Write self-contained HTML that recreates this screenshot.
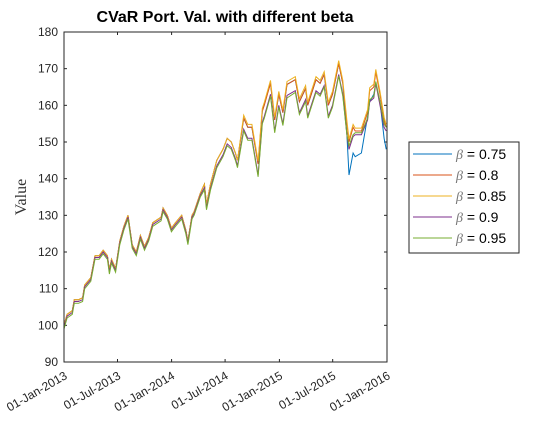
<!DOCTYPE html>
<html><head><meta charset="utf-8"><style>
body{margin:0;background:#fff;width:560px;height:420px;overflow:hidden}
svg text{font-family:"Liberation Sans",sans-serif}
</style></head><body>
<svg width="560" height="420">
<rect width="560" height="420" fill="#fff"/>
<text x="225" y="22" text-anchor="middle" font-size="16" font-weight="bold" fill="#000">CVaR Port. Val. with different beta</text>
<text transform="translate(26,197) rotate(-90)" text-anchor="middle" font-size="16" style="font-family:'Liberation Serif',serif" fill="#333">Value</text>
<g id="axes"></g>
<g id="series"></g>
<rect x="64" y="32" width="323" height="330" fill="none" stroke="#262626" stroke-width="1"/>
<g id="legend"></g>
</svg>
<script>
const weeks=[0,1.5,4,5,7,9,10,13,15,17,19,21,22,23,25,27,29,31,33,35,37,39,41,43,47,48,50,52,54,57,59,60,62,63,66,68,69,71,74,77,79,81,83,84,87,89,91,94,96,97,100,102,104,106,108,112,114,117,118,122,124,126,128,130,133,135,137,138,140,141,144,147,148,150,151,153,155,156];
const s075=[100,103,104,107,107,107.5,111,113,119,119,120.5,119,115,118,115.5,123,127,130,122,120,124.5,121.5,124,128,129.5,132,130,126.5,128,130,126,123,130,131,136,138.5,133,138.6,145,148,151,150,147,145,156.5,154,154,144,158.4,160.5,166,156,163,158,165.7,167,161,164.6,160,167,166,168.4,160,163,171.4,166,152,141,147,146,147,157,161,163,166,161,151,148];
const s080=[100,103,104,107,107,107.5,111,113,119,119,120.5,119,115,118,115.5,123,127,130,122,120,124.5,121.5,124,128,129.5,132,130,126.5,128,130,126,123,130,131,136,138.5,133,138.6,145,148,151,150,147,145,156.5,154,154,144,158.4,160,166,156,163,158,165.7,167,161,164.6,160,167,166,168.4,160,163,171.4,166,155,150,154,153,153,158,164,165,169,163,156,154];
const s085=[100,103,104,107,107,107.5,111,113,119,119,120.5,119,115,118,115.5,123,127,130,122,120,124.5,121.5,124,128,129.5,132,130,126.5,128,130,126,123,130,131,136,138.5,133,138.6,145,148,151,150,147,145,157.3,154.8,154.8,144.8,159.2,160.8,166.8,156.8,163.8,158.8,166.5,167.8,161.8,165.4,160.8,167.8,166.8,169.2,160.8,163.8,172.2,166.8,155.8,150.8,154.8,153.8,153.8,158.8,164.8,165.8,169.8,163.8,156.8,154.8];
const s090=[99.5,102.5,103.5,106.5,106.5,107,110.5,112.5,118.5,118.5,120,118.5,114.5,117.5,115,122.5,126.5,129.5,121.5,119.5,124,121,123.5,127.5,129,131.5,129.5,126,127.5,129.5,125.5,122.5,129.5,130.5,135.5,137.5,132,137.5,143.5,146.5,149.5,148.5,145.5,143.5,153.5,151,151,141,155.4,157,163,153,160,155,162.7,164,158,161.6,157,164,163,165.4,157,160,168.4,163,152,148,151.5,152,152,156,161,162,166,160,154,153];
const s095=[99,102,103,106,106,106.5,110,112,118,118,119.5,118,114,117,114.5,122,126,129,121,119,123.5,120.5,123,127,128.5,131,129,125.5,127,129,125,122,129,130,135,137,131.5,137,143,146,149,148,145,143,153,150.5,150.5,140.5,155,156.5,162.5,152.5,159.5,154.5,162,163.5,157.5,161,156.5,163.5,162.5,165,156.5,159.5,168,162.5,152,149,152,152.5,152.5,156.5,161.5,162.5,166.5,161,155,154];
const yTicks=[90,100,110,120,130,140,150,160,170,180];
const xTickWeeks=[0,25.9,52.1,78,104.3,130.1,156.4];
const xTickLabels=["01-Jan-2013","01-Jul-2013","01-Jan-2014","01-Jul-2014","01-Jan-2015","01-Jul-2015","01-Jan-2016"];
const seriesNames=["0.75","0.8","0.85","0.9","0.95"];
const colors=["#0072BD","#D95319","#EDB120","#7E2F8E","#77AC30"];
const NS="http://www.w3.org/2000/svg";
const X=w=>64+w*323/156.4;
const Y=v=>362-(v-90)*330/90;
const ax=document.getElementById('axes');
function mk(t,a,p){const e=document.createElementNS(NS,t);for(const k in a)e.setAttribute(k,a[k]);p.appendChild(e);return e;}
yTicks.forEach(v=>{
  const y=Y(v);
  const l=mk('line',{x1:64,x2:67,y1:y,y2:y,stroke:'#262626'},ax);
  
  
  const l2=mk('line',{x1:384,x2:387,y1:y,y2:y,stroke:'#262626'},ax);
  
  
  const t=mk('text',{x:58,y:y+4,'text-anchor':'end','font-size':12,fill:'#262626'},ax);
  t.textContent=v;
  
  
});
xTickWeeks.forEach((w,i)=>{
  const x=X(w);
  const l=mk('line',{x1:x,x2:x,y1:362,y2:359,stroke:'#262626'},ax);
  
  
  const l2=mk('line',{x1:x,x2:x,y1:32,y2:35,stroke:'#262626'},ax);
  
  
  const t=mk('text',{transform:`translate(${x+4},${378}) rotate(-30)`,'text-anchor':'end','font-size':12,fill:'#262626'},ax);
  t.textContent=xTickLabels[i];
  
  
});
const sg=document.getElementById('series');
[s075,s080,s085,s090,s095].forEach((s,i)=>{
  const d=s.map((v,j)=>(j?'L':'M')+X(weeks[j]).toFixed(1)+' '+Y(v).toFixed(1)).join(' ');
  const p=mk('path',{d:d,fill:'none',stroke:colors[i],'stroke-width':1},sg);
  
  
});
const lg=document.getElementById('legend');
const box=mk('rect',{x:409,y:142,width:110,height:111,fill:'#fff',stroke:'#262626'},lg);


seriesNames.forEach((n,i)=>{
  const y=154+i*21;
  const l=mk('line',{x1:413,x2:452,y1:y,y2:y,stroke:colors[i]},lg);
  
  
  const t=mk('text',{x:456,y:y+5,'font-size':14,fill:'#000'},lg);
  t.innerHTML='<tspan font-style="italic" fill="#777" style="font-family:\'Liberation Serif\',serif">β</tspan> = '+n;
  
  
});
</script>
</body></html>
